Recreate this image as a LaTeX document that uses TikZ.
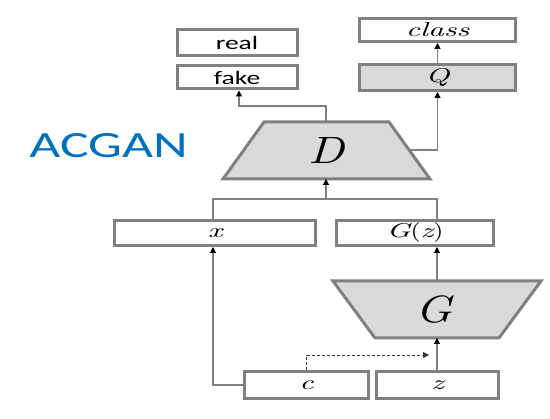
\documentclass[tikz,border=0pt]{standalone}
\usepackage{fontspec}
\newfontfamily\wsans{Carlito}[FakeStretch=1.45]
\newfontfamily\myit{lmroman10-italic}[Extension=.otf,FakeStretch=1.55]
\newfontfamily\myrm{lmroman10-regular}[Extension=.otf,FakeStretch=1.3]
\newfontfamily\mybigit{lmroman10-italic}[Extension=.otf,FakeStretch=1.25]
\usetikzlibrary{arrows.meta}
\definecolor{bordergray}{HTML}{808080}
\definecolor{fillgray}{HTML}{D9D9D9}
\definecolor{acblue}{HTML}{0070C0}
\begin{document}
\begin{tikzpicture}[x=1pt,y=-1pt,
  box/.style={draw=bordergray,line width=3pt,fill=white,inner sep=0pt,anchor=center},
  gbox/.style={box,fill=fillgray},
  conn/.style={draw=bordergray,line width=1.1pt,-{Triangle[width=6pt,length=6pt,color=black]}},
  plain/.style={draw=bordergray,line width=1.1pt},
  txt/.style={font=\wsans\fontsize{19}{19}\selectfont},
  mth/.style={font=\myit\fontsize{20}{20}\selectfont},
  big/.style={font=\mybigit\fontsize{38}{38}\selectfont}
]
\useasboundingbox (0,0) rectangle (550,419);
% boxes
\node[box,txt,minimum width=120pt,minimum height=26pt] (real) at (237,42.5) {real};
\node[box,txt,minimum width=120pt,minimum height=23pt] (fake) at (237,77.5) {fake};
\node[box,mth,minimum width=156pt,minimum height=23pt] (class) at (437.5,30) {class};
\node[gbox,mth,minimum width=156pt,minimum height=26pt] (Q) at (437.5,77.5) {Q};
\node[box,mth,minimum width=201pt,minimum height=25pt] (x) at (215,233) {x};
\node[box,mth,minimum width=157pt,minimum height=25pt] (Gz) at (415,233) {G{\myrm(}z{\myrm)}};
\node[box,mth,minimum width=124pt,minimum height=27pt] (c) at (306.5,385) {c};
\node[box,mth,minimum width=122pt,minimum height=27pt] (z) at (437.5,385) {z};
% trapezoids
\draw[draw=bordergray,fill=fillgray,line width=3pt,line join=miter]
  (264,122) -- (389,122) -- (430,179) -- (223,179) -- cycle;
\node[big] (D) at (326,151) {D};
\coordinate (Dtop) at (326,122);
\coordinate (Dbot) at (326,179);
\coordinate (Dright) at (409,150);
\draw[draw=bordergray,fill=fillgray,line width=3pt,line join=miter]
  (333,281) -- (541,281) -- (499,338) -- (375,338) -- cycle;
\node[big] (G) at (434,310) {G};
\coordinate (Gtop) at (437,281);
\coordinate (Gbot) at (437,338);
% ACGAN label
\node[font=\wsans\fontsize{37}{37}\selectfont,text=acblue,anchor=center] (acgan) at (108.5,146) {ACGAN};
% connectors
\draw[conn] (Dtop) |- (239,106) -- (fake.south -| 239,0);
\draw[conn] (Dright) -| (Q.south);
\draw[conn] (Q.north) -- (class.south);
\coordinate (jn) at (326,199);
\draw[plain] (x.north -| 213,0) |- (jn) -| (Gz.north -| 437,0);
\draw[conn] (jn) -- (Dbot);
\draw[conn] (Gtop) -- (Gz.south -| 437,0);
\draw[conn] (z.north -| 437,0) -- (Gbot);
\draw[conn] (c.west) -| (x.south -| 213,0);
\coordinate (dashend) at (429,355);
\draw[line width=0.9pt,draw=black!80,dashed,dash pattern=on 3pt off 2pt,-{Triangle[width=6pt,length=6pt]}] (c.north) |- (dashend);
\end{tikzpicture}
\end{document}
